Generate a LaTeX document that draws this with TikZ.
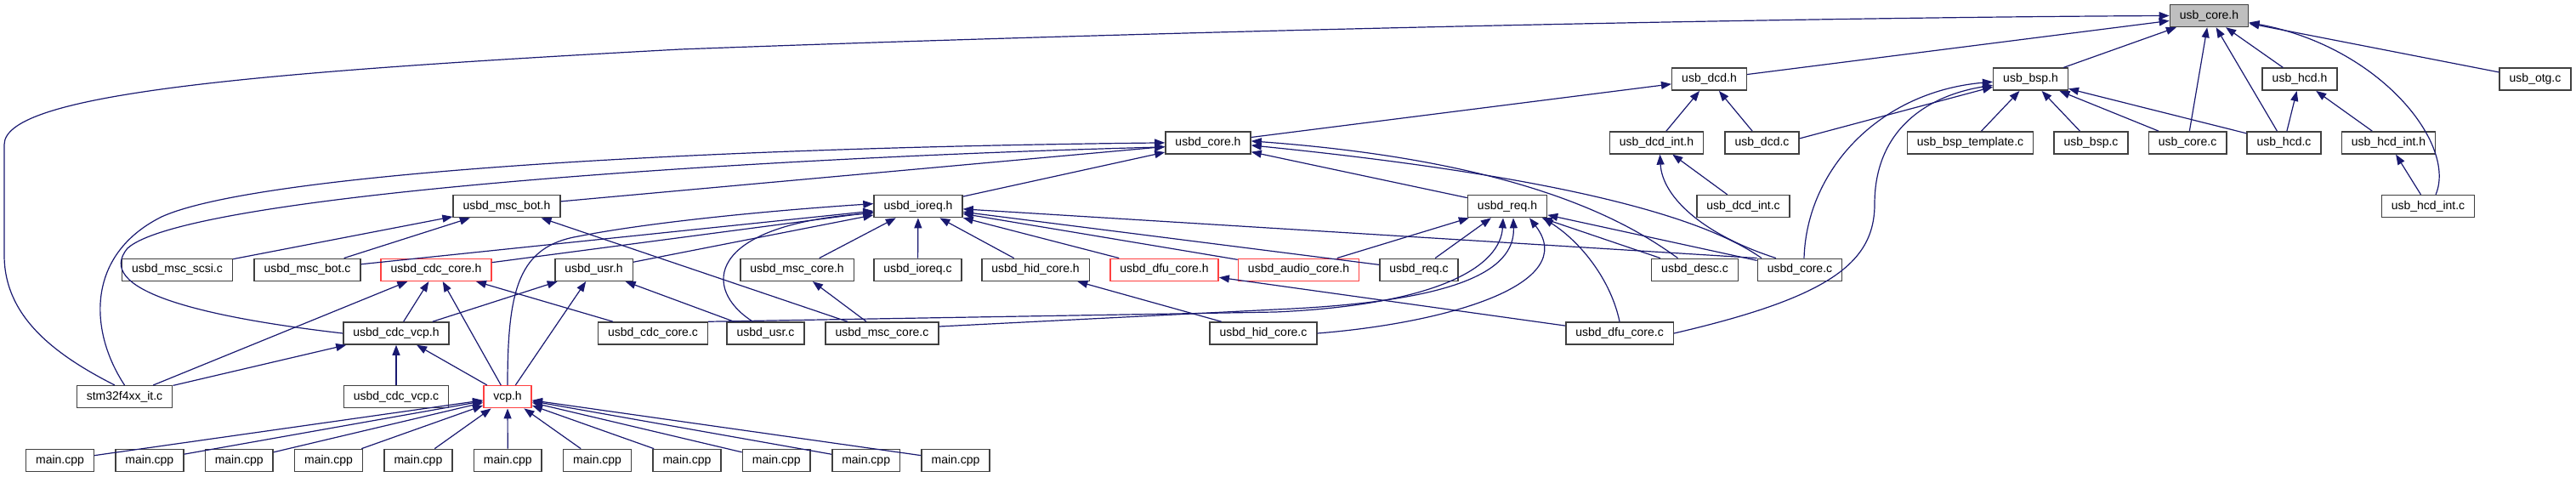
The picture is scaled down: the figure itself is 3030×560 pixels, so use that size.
\documentclass[tikz,border=0pt]{standalone}
\usepackage{fontspec}
\setmainfont{Liberation Sans}
\usetikzlibrary{arrows.meta}
\definecolor{edgeblue}{HTML}{191970}
\definecolor{boxred}{HTML}{FF4040}

\begin{document}
\begin{tikzpicture}[
    x=1pt, y=-1pt,
    box/.style={draw=black!75, line width=1.5pt, fill=white, inner xsep=11.5pt, inner ysep=0pt, minimum height=26pt, font=\fontsize{14}{16}\selectfont},
    redbox/.style={box, draw=boxred},
    rootbox/.style={box, fill=black!25},
    dep/.style={draw=edgeblue, line width=1.2pt, -{Triangle[length=12pt,width=9pt]}}
]
\useasboundingbox (0,0) rectangle (3030,560);

% row 0 and 1
\node[rootbox] (core) at (2598.5,18.5) {usb\_core.h};
\node[box] (dcdh) at (2010.5,93.2) {usb\_dcd.h};
\node[box] (bsph) at (2388.5,93.2) {usb\_bsp.h};
\node[box] (hcdh) at (2705,93.2) {usb\_hcd.h};
\node[box] (otgc) at (2982,93.2) {usb\_otg.c};

% row 2
\node[box] (dcore) at (1421,167.9) {usbd\_core.h};
\node[box] (dcdinth) at (1948.5,167.9) {usb\_dcd\_int.h};
\node[box] (dcdc) at (2072.5,167.9) {usb\_dcd.c};
\node[box] (bsptpl) at (2317.5,167.9) {usb\_bsp\_template.c};
\node[box] (bspc) at (2459.5,167.9) {usb\_bsp.c};
\node[box] (corec) at (2573,167.9) {usb\_core.c};
\node[box] (hcdc) at (2686.5,167.9) {usb\_hcd.c};
\node[box] (hcdinth) at (2809.5,167.9) {usb\_hcd\_int.h};

% row 3
\node[box] (mscboth) at (596,242.6) {usbd\_msc\_bot.h};
\node[box] (ioreqh) at (1080,242.6) {usbd\_ioreq.h};
\node[box] (reqh) at (1773,242.6) {usbd\_req.h};
\node[box] (dcdintc) at (2050.5,242.6) {usb\_dcd\_int.c};
\node[box] (hcdintc) at (2856,242.6) {usb\_hcd\_int.c};

% row 4
\node[box] (mscscsi) at (208.5,317.3) {usbd\_msc\_scsi.c};
\node[box] (mscbotc) at (361.5,317.3) {usbd\_msc\_bot.c};
\node[redbox] (cdccoreh) at (513,317.3) {usbd\_cdc\_core.h};
\node[box] (usrh) at (698.5,317.3) {usbd\_usr.h};
\node[box] (msccoreh) at (937.5,317.3) {usbd\_msc\_core.h};
\node[box] (ioreqc) at (1079.5,317.3) {usbd\_ioreq.c};
\node[box] (hidcoreh) at (1218,317.3) {usbd\_hid\_core.h};
\node[redbox] (dfucoreh) at (1369.5,317.3) {usbd\_dfu\_core.h};
\node[redbox] (audioh) at (1527.5,317.3) {usbd\_audio\_core.h};
\node[box] (reqc) at (1669,317.3) {usbd\_req.c};
\node[box] (descc) at (1993.5,317.3) {usbd\_desc.c};
\node[box] (dcorec) at (2117,317.3) {usbd\_core.c};

% row 5
\node[box] (cdcvcph) at (466,392) {usbd\_cdc\_vcp.h};
\node[box] (cdccorec) at (768,392) {usbd\_cdc\_core.c};
\node[box] (usrc) at (900.5,392) {usbd\_usr.c};
\node[box] (msccorec) at (1037.5,392) {usbd\_msc\_core.c};
\node[box] (hidcorec) at (1486,392) {usbd\_hid\_core.c};
\node[box] (dfucorec) at (1905,392) {usbd\_dfu\_core.c};

% row 6 and 7
\node[box] (stmit) at (146.5,466.7) {stm32f4xx\_it.c};
\node[box] (cdcvcpc) at (466,466.7) {usbd\_cdc\_vcp.c};
\node[redbox] (vcph) at (597,466.7) {vcp.h};
\foreach \i in {1,...,11}
    \node[box] (main\i) at ({70.5+105.35*(\i-1)},541.4) {main.cpp};

% usb_core.h
\draw[dep] (dcdh) -- (core);
\draw[dep] (bsph) -- (core);
\draw[dep] (corec) -- (core);
\draw[dep] (hcdc) -- (core);
\draw[dep] (hcdh) -- (core);
\draw[dep] (otgc) -- (core);
\draw[dep] ([xshift=9pt]hcdintc.north) .. controls (2890,170) and (2800,55) .. ([yshift=-8pt]core.east);
\draw[dep] (stmit.130) .. controls (60,415) and (5,370) .. (5,300) -- (5,170)
    .. controls (5,110) and (300,85) .. (800,58) .. controls (1500,32) and (2200,20) .. (core.west);

% usb_dcd.h, usb_bsp.h, usb_hcd.h
\draw[dep] (dcore) -- (dcdh);
\draw[dep] (dcdinth) -- (dcdh);
\draw[dep] (dcdc) -- (dcdh);
\draw[dep] (bsptpl) -- (bsph);
\draw[dep] (bspc) -- (bsph);
\draw[dep] (corec) -- (bsph);
\draw[dep] (hcdc) -- (bsph);
\draw[dep] ([yshift=5pt]dcdc.east) -- ([yshift=-9pt]bsph.west);
\draw[dep] ([xshift=5pt]dcorec.north) .. controls (2125,200) and (2210,108) .. ([yshift=-3pt]bsph.west);
\draw[dep] (dfucorec.east) .. controls (2150,350) and (2205,310) .. (2205,240)
    .. controls (2205,150) and (2270,112) .. ([yshift=-7pt]bsph.west);
\draw[dep] (hcdc) -- (hcdh);
\draw[dep] (hcdinth) -- (hcdh);
\draw[dep] (hcdintc) -- (hcdinth);

% usb_dcd_int.h
\draw[dep] (dcdintc) -- (dcdinth);
\draw[dep] ([xshift=-28pt]dcorec.north) .. controls (2000,275) and (1955,230) .. ([xshift=4pt]dcdinth.south);

% usbd_core.h
\draw[dep] (ioreqh) -- (dcore);
\draw[dep] (mscboth) -- (dcore);
\draw[dep] (reqh) -- (dcore);
\draw[dep] (stmit.north) .. controls (105,390) and (100,300) .. (190,255)
    .. controls (300,205) and (800,174) .. (dcore.west);
\draw[dep] (cdcvcph.west) .. controls (230,372) and (110,340) .. (150,292)
    .. controls (220,228) and (900,185) .. ([yshift=-5pt]dcore.west);
\draw[dep] ([xshift=-20pt]descc.north) .. controls (1920,265) and (1800,190) .. ([yshift=2pt]dcore.east);
\draw[dep] ([xshift=-45pt]dcorec.north) .. controls (2010,260) and (1860,210) .. ([yshift=-3pt]dcore.east);

% usbd_ioreq.h
\draw[dep] (mscbotc) -- (ioreqh);
\draw[dep] (cdccoreh) -- (ioreqh);
\draw[dep] (usrh) -- (ioreqh);
\draw[dep] (msccoreh) -- (ioreqh);
\draw[dep] (ioreqc) -- (ioreqh);
\draw[dep] (hidcoreh) -- (ioreqh);
\draw[dep] (dfucoreh) -- (ioreqh);
\draw[dep] (audioh) -- (ioreqh);
\draw[dep] (reqc) -- (ioreqh);
\draw[dep] (dcorec.north west) -- (ioreqh);
\draw[dep] (vcph.north) .. controls (597,340) and (610,290) .. (680,278)
    .. controls (760,262) and (900,248) .. ([yshift=3pt]ioreqh.west);
\draw[dep] ([xshift=-15pt]usrc.north) .. controls (825,340) and (830,265) .. ([yshift=-8pt]ioreqh.west);

% usbd_req.h
\draw[dep] (audioh) -- (reqh);
\draw[dep] (reqc) -- (reqh);
\draw[dep] (cdccorec.north east) -- (1500,367) .. controls (1700,358) and (1765,310) .. ([xshift=-5pt]reqh.south);
\draw[dep] ([yshift=8pt]msccorec.east) -- (1500,364) .. controls (1710,355) and (1782,320) .. ([xshift=7pt]reqh.south);
\draw[dep] (hidcorec.east) .. controls (1700,380) and (1860,335) .. ([xshift=26pt]reqh.south);
\draw[dep] (dfucorec.north) .. controls (1895,330) and (1860,285) .. ([xshift=42pt]reqh.south);
\draw[dep] (descc) -- (reqh);
\draw[dep] (dcorec) -- (reqh);

% usbd_msc_bot.h, usbd_cdc_core.h, usbd_usr.h
\draw[dep] (mscscsi) -- (mscboth);
\draw[dep] (mscbotc) -- (mscboth);
\draw[dep] (msccorec) -- (mscboth);
\draw[dep] (stmit) -- (cdccoreh);
\draw[dep] (cdcvcph) -- (cdccoreh);
\draw[dep] (vcph) -- (cdccoreh);
\draw[dep] (cdccorec) -- (cdccoreh);
\draw[dep] (cdcvcph) -- (usrh);
\draw[dep] (vcph) -- (usrh);
\draw[dep] (usrc) -- (usrh);

% class cores
\draw[dep] (msccorec) -- (msccoreh);
\draw[dep] (hidcorec) -- (hidcoreh);
\draw[dep] (dfucorec) -- (dfucoreh);

% usbd_cdc_vcp.h and vcp.h
\draw[dep] (stmit) -- (cdcvcph);
\draw[dep] (cdcvcpc) -- (cdcvcph);
\draw[dep] (vcph) -- (cdcvcph);
\foreach \i in {1,...,11}
    \draw[dep] (main\i) -- (vcph);
\end{tikzpicture}
\end{document}
